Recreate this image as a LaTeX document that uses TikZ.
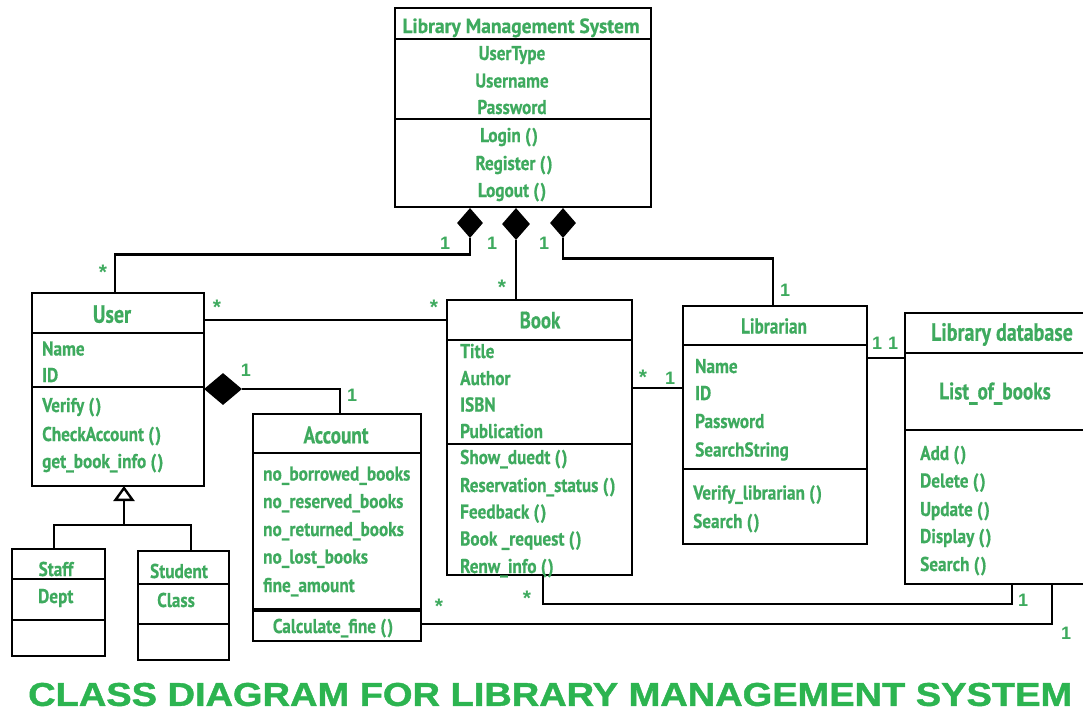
\documentclass[tikz,border=0pt]{standalone}
\usepackage{fontspec}
\usepackage{graphicx}
\setmainfont{PT Sans}[FakeStretch=0.86, BoldFeatures={FakeBold=0.5}]
\newfontfamily\hdfont{PT Sans}[FakeStretch=0.8, BoldFeatures={FakeBold=0.5}]
\newfontfamily\widefont{PT Sans}[FakeStretch=0.95, BoldFeatures={FakeBold=0.5}]
\newfontfamily\titlefont{Liberation Sans}[BoldFeatures={FakeBold=1.2}]
\newfontfamily\multfont{Liberation Sans}
\usetikzlibrary{shapes.geometric,arrows.meta,calc}
\definecolor{umlgreen}{RGB}{62,170,94}
\definecolor{titlegreen}{RGB}{44,180,80}
\newcommand{\pp}{(\kern1.5pt)}
\begin{document}
\begin{tikzpicture}[x=1pt,y=-1pt,
  box/.style={draw=black, line width=2.8pt, inner sep=0pt, outer sep=0pt, anchor=north west},
  sep/.style={line width=2.8pt},
  conn/.style={line width=2.8pt, line join=miter},
  tx/.style={text=umlgreen, font=\bfseries\fontsize{20}{22}\selectfont, inner sep=0pt, text height=14pt, text depth=0pt},
  txl/.style={tx, anchor=west},
  hd/.style={tx, font=\hdfont\bfseries\fontsize{25}{27}\selectfont, text height=17.5pt},
  hdm/.style={tx, font=\hdfont\bfseries\fontsize{24}{26}\selectfont, text height=16.8pt},
  mult/.style={text=umlgreen, font=\multfont\bfseries\fontsize{18}{20}\selectfont, inner sep=0pt, text height=13pt, text depth=0pt},
  star/.style={mult, font=\multfont\bfseries\fontsize{21}{22}\selectfont, anchor=north},
  comp/.style={diamond, fill=black, draw=none, inner sep=0pt, aspect=1}
]
\useasboundingbox (0,0) rectangle (1083,713);
\fill[white] (0,0) rectangle (1083,713);

% ---------- Library Management System ----------
\node[box, minimum width=256pt, minimum height=199pt] (lms) at (395,8) {};
\draw[sep] (395,39) -- (651,39);
\draw[sep] (395,119) -- (651,119);
\node[tx, font=\widefont\bfseries\fontsize{20.5}{22}\selectfont] (lmsT) at (521,26) {Library Management System};
\node[tx] (lmsA1) at (512,53) {UserType};
\node[tx] (lmsA2) at (512,80.5) {Username};
\node[tx] (lmsA3) at (512,107) {Password};
\node[tx] (lmsM1) at (509,135) {Login \pp};
\node[tx] (lmsM2) at (514,163) {Register \pp};
\node[tx] (lmsM3) at (512,190) {Logout \pp};

% ---------- User ----------
\node[box, minimum width=172pt, minimum height=193pt] (user) at (32,293) {};
\draw[sep] (32,333) -- (204,333);
\draw[sep] (32,387) -- (204,387);
\node[hd] (userT) at (112,314) {User};
\node[txl] (userA1) at (42,348.5) {Name};
\node[txl] (userA2) at (42,375) {ID};
\node[txl] (userM1) at (42,405) {Verify \pp};
\node[txl] (userM2) at (42,434) {CheckAccount \pp};
\node[txl] (userM3) at (42,461) {get\_book\_info \pp};

% ---------- Staff / Student ----------
\node[box, minimum width=93pt, minimum height=107pt] (staff) at (12,549) {};
\draw[sep] (12,579) -- (105,579);
\draw[sep] (12,620) -- (105,620);
\node[tx] (staffT) at (56,569) {Staff};
\node[txl] (staffA) at (38,596) {Dept};

\node[box, minimum width=91pt, minimum height=109pt] (student) at (138,551) {};
\draw[sep] (138,584) -- (229,584);
\draw[sep] (138,624) -- (229,624);
\node[tx] (studentT) at (179,571) {Student};
\node[txl] (studentA) at (157,600) {Class};

% ---------- Account ----------
\node[box, minimum width=168pt, minimum height=227pt] (acc) at (253,414) {};
\draw[sep] (253,453) -- (421,453);
\draw[line width=3.8pt] (253,610) -- (421,610);
\node[hdm] (accT) at (336,435) {Account};
\node[txl] (accA1) at (263,473.5) {no\_borrowed\_books};
\node[txl] (accA2) at (263,501) {no\_reserved\_books};
\node[txl] (accA3) at (263,529) {no\_returned\_books};
\node[txl] (accA4) at (263,556.5) {no\_lost\_books};
\node[txl] (accA5) at (263,585) {fine\_amount};
\node[tx] (accM1) at (333,626) {Calculate\_fine \pp};

% ---------- Book ----------
\node[box, minimum width=185pt, minimum height=275pt] (book) at (447,300) {};
\draw[sep] (447,340) -- (632,340);
\draw[sep] (447,444) -- (632,444);
\node[hd, font=\hdfont\bfseries\fontsize{23.5}{25}\selectfont, text height=16.5pt] (bookT) at (540,320) {Book};
\node[txl] (bookA1) at (460,351) {Title};
\node[txl] (bookA2) at (460,378) {Author};
\node[txl] (bookA3) at (460,404.5) {ISBN};
\node[txl] (bookA4) at (460,431) {Publication};
\node[txl] (bookM1) at (460,457) {Show\_duedt \pp};
\node[txl] (bookM2) at (460,485) {Reservation\_status \pp};
\node[txl] (bookM3) at (460,511.5) {Feedback \pp};
\node[txl] (bookM4) at (460,538.5) {Book \_request \pp};
\node[txl] (bookM5) at (460,566) {Renw\_info \pp};

% ---------- Librarian ----------
\node[box, minimum width=184pt, minimum height=238pt] (lib) at (683,306) {};
\draw[sep] (683,345) -- (867,345);
\draw[sep] (683,469) -- (867,469);
\node[tx, font=\hdfont\bfseries\fontsize{21.5}{23}\selectfont, text height=15pt] (libT) at (774,326) {Librarian};
\node[txl] (libA1) at (695,366) {Name};
\node[txl] (libA2) at (695,393) {ID};
\node[txl] (libA3) at (695,421) {Password};
\node[txl] (libA4) at (695,449.5) {SearchString};
\node[txl] (libM1) at (693,492.5) {Verify\_librarian \pp};
\node[txl] (libM2) at (693,521) {Search \pp};

% ---------- Library database ----------
\node[box, minimum width=200pt, minimum height=271pt] (db) at (905,313) {};
\draw[sep] (905,353) -- (1100,353);
\draw[sep] (905,430) -- (1100,430);
\node[tx, font=\hdfont\bfseries\fontsize{25}{27}\selectfont, text height=17.5pt] (dbT) at (1002,332) {Library database};
\node[hdm, font=\hdfont\bfseries\fontsize{24}{26}\selectfont] (dbA1) at (995,391) {List\_of\_books};
\node[txl] (dbM1) at (920,453) {Add \pp};
\node[txl] (dbM2) at (920,480.5) {Delete \pp};
\node[txl] (dbM3) at (920,509) {Update \pp};
\node[txl] (dbM4) at (920,536) {Display \pp};
\node[txl] (dbM5) at (920,564) {Search \pp};

% ---------- composition diamonds ----------
\node[comp, minimum width=26pt, minimum height=30pt] (d1) at (470,223) {};
\node[comp, minimum width=28pt, minimum height=32pt] (d2) at (516,224) {};
\node[comp, minimum width=26pt, minimum height=30pt] (d3) at (563,223) {};
\node[comp, minimum width=38pt, minimum height=32pt] (d4) at (223,389) {};

% ---------- connection points ----------
\coordinate (uTop) at (115,293);
\coordinate (libTop) at (773,306);
\coordinate (ubY) at (204,320);
\coordinate (blY) at (632,388);
\coordinate (ldY) at (867,358);
\coordinate (accTop) at (340,414);
\coordinate (bookBot) at (543,575);
\coordinate (db1) at (1012,584);
\coordinate (accR) at (421,624);
\coordinate (db2) at (1052,584);
\coordinate (inh) at (124,525);
\coordinate (stf) at (54,549);
\coordinate (stu) at (191,551);

% ---------- connectors ----------
\draw[conn] (d1.south) -- ++(0,16) -| (uTop);
\draw[conn] (d2.south) -- (d2.south |- book.north);
\draw[conn] (d3.south) -- ++(0,20) -| (libTop);
\draw[conn] (ubY) -- (ubY -| book.west);
\draw[conn] (blY) -- (blY -| lib.west);
\draw[conn] (ldY) -- (ldY -| db.west);
\draw[conn] (d4.east) -| (accTop);
\draw[conn] (bookBot) -- ++(0,29) -| (db1);
\draw[conn] (accR) -| (db2);
\draw[conn] (stf) |- (inh) -| (stu);
\draw[conn, -{Triangle[open, length=15pt, width=21pt, line width=2.4pt]}] (inh) -- (inh |- user.south);

% ---------- multiplicities ----------
\node[mult] (m1) at (445,243) {1};
\node[mult] (m2) at (492,243) {1};
\node[mult] (m3) at (544,243) {1};
\node[star] (s1) at (103,266) {*};
\node[star] (s2) at (502,281) {*};
\node[mult] (m4) at (785,290) {1};
\node[star] (s3) at (217,301) {*};
\node[star] (s4) at (434,301) {*};
\node[mult] (m5) at (246,370) {1};
\node[mult] (m6) at (352,395) {1};
\node[star] (s5) at (643,371) {*};
\node[mult] (m7) at (670,378) {1};
\node[mult] (m8) at (877,343) {1};
\node[mult] (m9) at (893,343) {1};
\node[star] (s6) at (527,592) {*};
\node[star] (s7) at (439,600) {*};
\node[mult] (m10) at (1023,600) {1};
\node[mult] (m11) at (1066,633) {1};

% ---------- title ----------
\node[anchor=west, inner sep=0pt, text=titlegreen] (title) at (28,694.5)
  {\resizebox{1044pt}{23pt}{\titlefont\bfseries CLASS DIAGRAM FOR LIBRARY MANAGEMENT SYSTEM}};
\end{tikzpicture}
\end{document}
